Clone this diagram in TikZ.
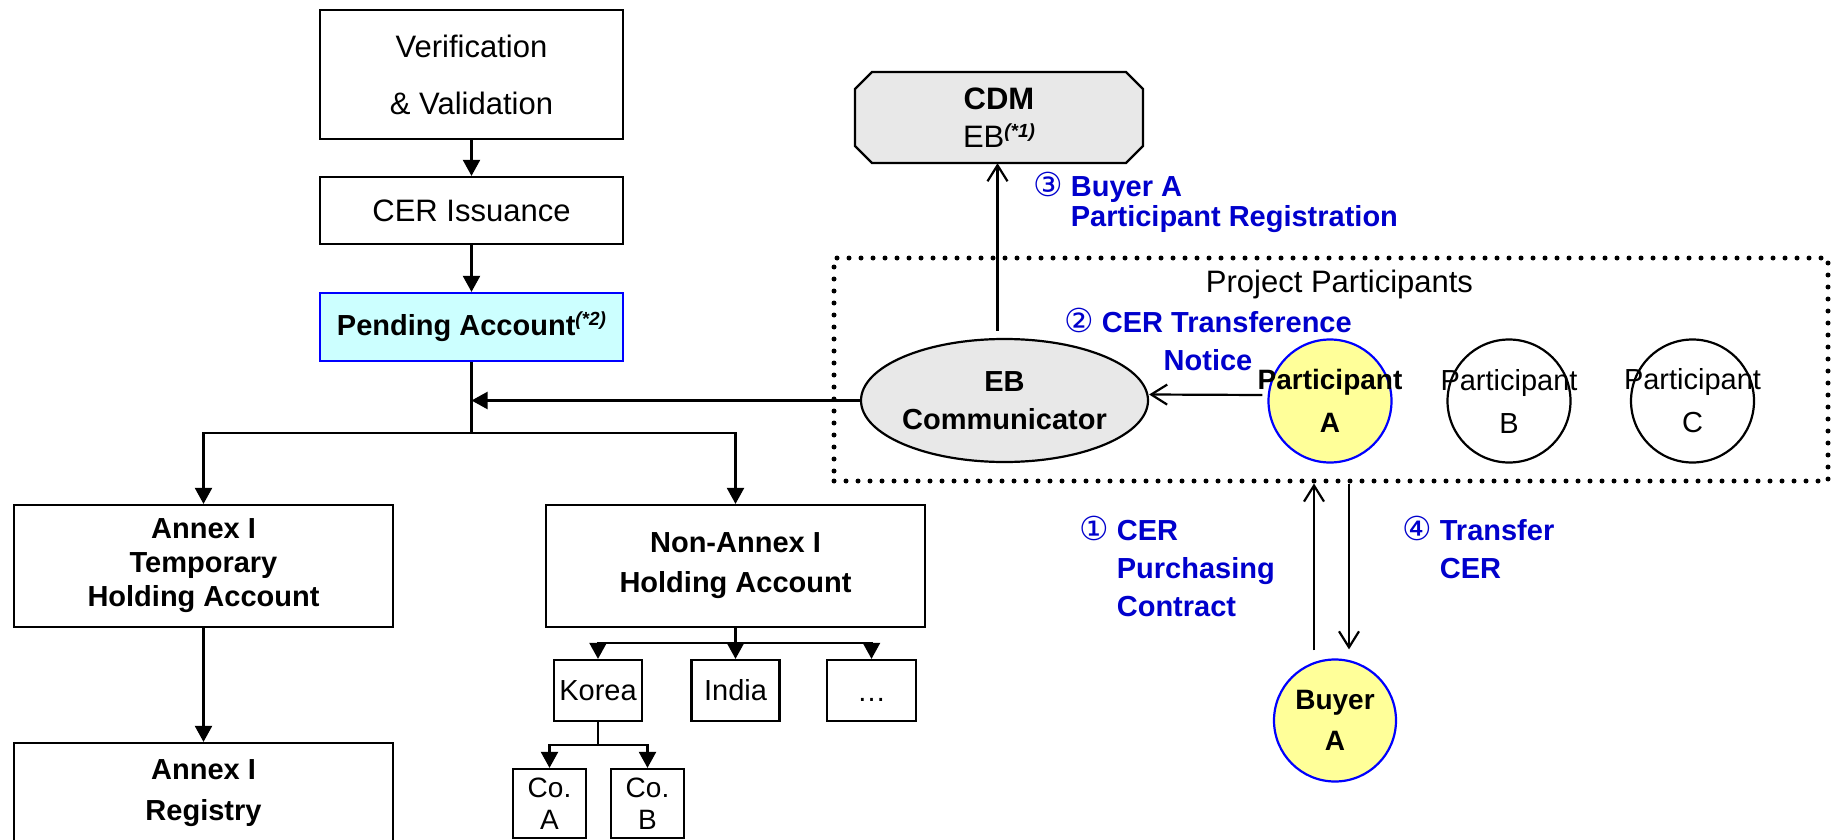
\documentclass[tikz,border=0pt]{standalone}
\usepackage{fontspec}
\setmainfont{Liberation Sans}
\newfontfamily\circfont{DejaVu Sans}
\usetikzlibrary{arrows.meta,shapes.geometric}
\definecolor{lblue}{RGB}{0,0,204}
\definecolor{pendfill}{RGB}{204,255,255}
\definecolor{ebgray}{RGB}{232,232,232}
\definecolor{pyellow}{RGB}{255,255,153}
\definecolor{bborder}{RGB}{0,0,255}
\newcommand\supnote[1]{\raisebox{10pt}{\fontsize{19}{19}\selectfont\bfseries\itshape #1}}
\newcommand\cnum[1]{{\circfont\mdseries\fontsize{33}{33}\selectfont #1}}
\begin{document}
\begin{tikzpicture}[x=1pt,y=-1pt,
  box/.style={draw, line width=2.2pt, inner sep=0pt, align=center},
  regtxt/.style={font=\fontsize{31}{38}\selectfont},
  boldtxt/.style={font=\fontsize{29}{35}\selectfont\bfseries},
  smalltxt/.style={font=\fontsize{28}{32}\selectfont},
  lbl/.style={text=lblue, inner sep=0pt, font=\fontsize{29}{38}\selectfont\bfseries},
  farrow/.style={line width=2.2pt, -{Triangle[length=16pt,width=17pt]}},
  oarrow/.style={line width=2.2pt, -{Straight Barb[length=16pt,width=20pt]}},
  plain/.style={line width=2.2pt},
  dotbox/.style={line width=5pt, line cap=round, dash pattern=on 0pt off 12pt},
]
\useasboundingbox (0,0) rectangle (1833,840);
\clip (0,0) rectangle (1833,840);

% ---------- left tree ----------
\node[box, regtxt, minimum width=303, minimum height=129] (ver) at (471.5,74.5) {Verification\\[19pt]\& Validation};
\node[box, regtxt, minimum width=303, minimum height=67] (iss) at (471.5,210.5) {CER Issuance};
\node[box, boldtxt, draw=bborder, fill=pendfill, minimum width=303, minimum height=68] (pend) at (471.5,327) {Pending Account\supnote{(*2)}};

\node[box, boldtxt, font=\fontsize{29}{34}\selectfont\bfseries, minimum width=379, minimum height=122] (at) at (203.5,566) {Annex I\\Temporary\\Holding Account};
\node[box, boldtxt, font=\fontsize{29}{41}\selectfont\bfseries, minimum width=379, minimum height=100] (reg) at (203.5,793) {Annex I\\Registry};
\node[box, boldtxt, font=\fontsize{29}{40}\selectfont\bfseries, minimum width=379, minimum height=122] (na) at (735.5,566) {Non-Annex I\\Holding Account};

\node[box, font=\fontsize{29}{32}\selectfont, minimum width=88, minimum height=61] (korea) at (598,690.5) {Korea};
\node[box, font=\fontsize{29}{32}\selectfont, minimum width=88, minimum height=61] (india) at (735.5,690.5) {India};
\node[box, font=\fontsize{29}{32}\selectfont, text height=21pt, text depth=0pt, minimum width=89, minimum height=61] (more) at (871.5,690.5) {…};
\node[box, smalltxt, minimum width=73, minimum height=69] (coa) at (549.5,803.5) {Co.\\A};
\node[box, smalltxt, minimum width=73, minimum height=69] (cob) at (647.5,803.5) {Co.\\B};

\coordinate (j1) at (471.5,433);
\coordinate (j2) at (735.5,643);
\coordinate (j3) at (598,745);

\draw[farrow] (ver) -- (iss);
\draw[farrow] (iss) -- (pend);
\draw[plain] (pend.south) -- (j1);
\draw[farrow] (j1) -| (at.north);
\draw[farrow] (j1) -| (na.north);
\draw[farrow] (at) -- (reg);
\draw[plain] (na.south) -- (j2);
\draw[farrow] (j2) -| (korea.north);
\draw[farrow] (j2) -- (india.north);
\draw[farrow] (j2) -| (more.north);
\draw[plain] (korea.south) -- (j3);
\draw[farrow] (j3) -| (coa.north);
\draw[farrow] (j3) -| (cob.north);

% ---------- right side ----------
\node[dotbox, draw, minimum width=994, minimum height=223, inner sep=0pt] (pp) at (1331,369.5) {};
\node[regtxt, inner sep=0pt, anchor=base] (ppt) at (1339.5,292) {Project Participants};

\filldraw[fill=ebgray, line width=2.2pt] (872,72) -- (1126,72) -- (1143,89) -- (1143,146) -- (1126,163) -- (872,163) -- (855,146) -- (855,89) -- cycle;
\node[inner sep=0pt, minimum width=288, minimum height=91, align=center, font=\fontsize{31}{38}\selectfont] (cdm) at (999,117.5) {\textbf{CDM}\\EB\supnote{(*1)}};

\node[ellipse, draw, fill=ebgray, line width=2.2pt, minimum width=287, minimum height=123, inner sep=0pt] (ebc) at (1004.5,400.5) {};
\node[font=\fontsize{29}{38}\selectfont\bfseries, align=center, inner sep=0pt] (ebct) at (ebc) {EB\\Communicator};

\node[circle, draw=bborder, fill=pyellow, line width=2.2pt, minimum size=123, inner sep=0pt] (pA) at (1330,401) {};
\node[font=\fontsize{28}{43}\selectfont\bfseries, align=center, inner sep=0pt] (pAt) at (pA) {Participant\\A};
\node[circle, draw, line width=2.2pt, minimum size=123, inner sep=0pt] (pB) at (1509,401) {};
\node[font=\fontsize{29}{43}\selectfont, align=center, inner sep=0pt] (pBt) at (pB) {Participant\\B};
\node[circle, draw, line width=2.2pt, minimum size=123, inner sep=0pt] (pC) at (1692.5,401) {};
\node[font=\fontsize{29}{43}\selectfont, align=center, inner sep=0pt] (pCt) at (pC) {Participant\\C};

\node[circle, draw=bborder, fill=pyellow, line width=2.2pt, minimum size=122, inner sep=0pt] (buyer) at (1335,720.5) {};
\node[font=\fontsize{28}{41}\selectfont\bfseries, align=center, inner sep=0pt] (buyert) at (buyer) {Buyer\\A};

\draw[farrow] (ebc.west) -- (ebc.west -| j1);
\draw[oarrow] ([xshift=-5pt,yshift=6pt]pA.west) -- ([yshift=6pt]ebc.east);
\draw[oarrow] ([xshift=-7pt,yshift=7pt]ebc.north) -- ([xshift=-7pt]ebc.north |- cdm.south);
\draw[oarrow] ([xshift=-21pt,yshift=8pt]buyer.north) -- ([xshift=-21pt]buyer.north |- pp.south);
\draw[oarrow] ([xshift=14pt]buyer.north |- pp.south) -- ([xshift=14pt,yshift=9pt]buyer.north);

% ---------- blue labels ----------
\node[lbl, align=left, anchor=north west, font=\fontsize{29}{30}\selectfont\bfseries] (l3) at (1033,172) {\cnum{③} Buyer A\\\hphantom{\cnum{③} }Participant Registration};
\node[lbl, align=center, anchor=north] (l2) at (1208,308) {\cnum{②} CER Transference\\Notice};
\node[lbl, align=left, anchor=north west] (l1) at (1079,516) {\cnum{①} CER\\\hphantom{\cnum{①} }Purchasing\\\hphantom{\cnum{①} }Contract};
\node[lbl, align=left, anchor=north west] (l4) at (1402,516) {\cnum{④} Transfer\\\hphantom{\cnum{④} }CER};
\end{tikzpicture}
\end{document}
